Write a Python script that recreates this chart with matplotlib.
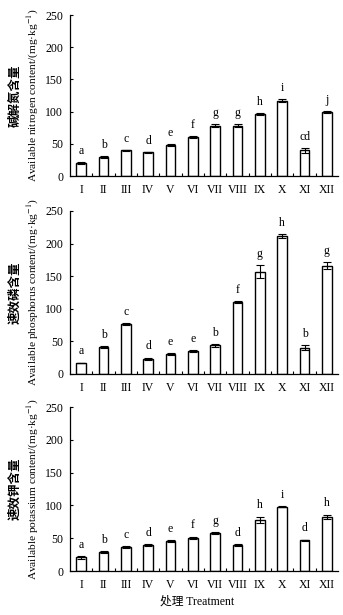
import matplotlib
matplotlib.use("Agg")
import matplotlib.pyplot as plt
import numpy as np

treatments = ["I", "II", "III", "IV", "V", "VI", "VII", "VIII", "IX", "X", "XI", "XII"]

nitrogen = [20, 30, 40, 37, 48, 60, 78, 78, 96, 117, 40, 99]
nitrogen_err = [1, 1.5, 0.5, 0.5, 1.5, 1.5, 2, 2, 2, 2, 4, 1.5]
nitrogen_letters = ["a", "b", "c", "d", "e", "f", "g", "g", "h", "i", "cd", "j"]

phosphorus = [17, 41, 77, 23, 30, 35, 44, 110, 157, 212, 40, 166]
phosphorus_err = [0.5, 2, 1.5, 2, 1.5, 2, 2, 1.5, 10, 3, 4, 5]
phosphorus_letters = ["a", "b", "c", "d", "e", "e", "b", "f", "g", "h", "b", "g"]

potassium = [21, 29, 36, 40, 46, 51, 58, 40, 78, 98, 47, 83]
potassium_err = [2, 1, 1.5, 1.5, 1, 1.5, 1.5, 1.5, 5, 1, 1, 3]
potassium_letters = ["a", "b", "c", "d", "e", "f", "g", "d", "h", "i", "d", "h"]

panels = [
    (nitrogen, nitrogen_err, nitrogen_letters, "碱解氮含量", "Available nitrogen content/(mg·kg$^{-1}$)"),
    (phosphorus, phosphorus_err, phosphorus_letters, "速效磷含量", "Available phosphorus content/(mg·kg$^{-1}$)"),
    (potassium, potassium_err, potassium_letters, "速效钾含量", "Available potassium content/(mg·kg$^{-1}$)"),
]

serif = ["Liberation Serif", "DejaVu Serif"]
cjk = ["Noto Sans CJK SC", "DejaVu Sans"]
plt.rcParams["mathtext.fontset"] = "stix"

fig = plt.figure(figsize=(3.43, 6.15), dpi=100)
boxes = [(0.7138, 0.9756), (0.392, 0.657), (0.0715, 0.338)]
left, right = 70 / 343, 338 / 343

x = np.arange(len(treatments))
for (vals, errs, letters, zh, en), (b, t) in zip(panels, boxes):
    ax = fig.add_axes([left, b, right - left, t - b])
    ax.bar(x, vals, width=0.42, color="white", edgecolor="black", linewidth=1.0,
           yerr=errs, capsize=3, error_kw=dict(elinewidth=0.8, capthick=0.8, ecolor="black"))
    for xi, v, e, lab in zip(x, vals, errs, letters):
        ax.text(xi, v + e + 8, lab, ha="center", va="bottom", fontsize=8.5, family=serif)
    ax.set_xlim(-0.5, len(treatments) - 0.5)
    ax.set_ylim(0, 250)
    ax.set_yticks(np.arange(0, 251, 50))
    ax.set_xticks(x)
    ax.set_xticklabels(treatments, family=serif, fontsize=8.5)
    ax.set_xticks(np.arange(0.5, len(treatments) - 0.5), minor=True)
    ax.tick_params(axis="x", which="major", length=0, pad=5.5)
    ax.tick_params(axis="x", which="minor", length=2.5, direction="in", width=0.8)
    ax.tick_params(axis="y", length=2.5, direction="in", width=0.8, labelsize=8.5, pad=5)
    for lbl in ax.get_yticklabels():
        lbl.set_family(serif)
    ax.spines["top"].set_visible(False)
    ax.spines["right"].set_visible(False)
    ax.spines["left"].set_linewidth(0.9)
    ax.spines["bottom"].set_linewidth(0.9)
    ax.text(-0.138, 0.5, en, rotation=90, transform=ax.transAxes, ha="center", va="center",
            fontsize=8.2, family=serif)
    ax.text(-0.205, 0.5, zh, rotation=90, transform=ax.transAxes, ha="center", va="center",
            fontsize=9, family=cjk, fontweight="bold")

fig.text(197 / 343, 1 - 602 / 615, "处理 Treatment", ha="center", va="center",
         fontsize=8.5, family=["Liberation Serif", "Noto Sans CJK SC"])

fig.savefig("out.png", dpi=100)
